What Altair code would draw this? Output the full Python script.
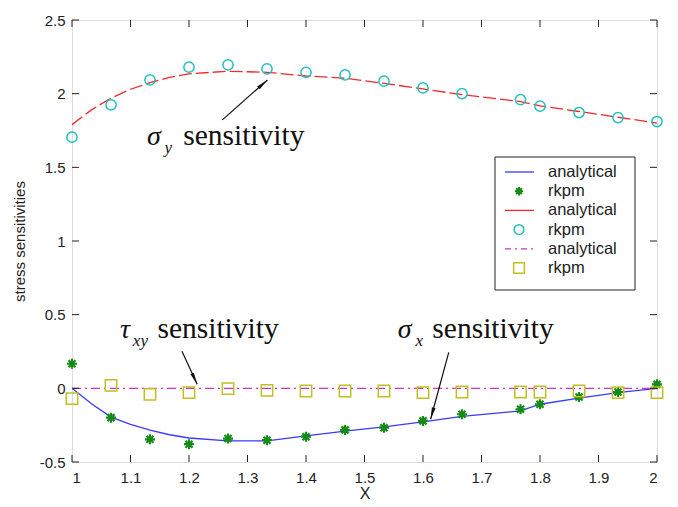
import math
import altair as alt
import pandas as pd

# ---------------- data ----------------
x_nodes = [1.0, 1.0667, 1.1333, 1.2, 1.2667, 1.3333, 1.4, 1.4667, 1.5333, 1.6,
           1.6667, 1.7667, 1.8, 1.8667, 1.9333, 2.0]
sx_rkpm = [0.167, -0.199, -0.346, -0.379, -0.341, -0.352, -0.328, -0.282, -0.267,
           -0.221, -0.176, -0.142, -0.108, -0.059, -0.025, 0.027]
sy_rkpm = [1.705, 1.924, 2.093, 2.18, 2.195, 2.168, 2.145, 2.127, 2.085, 2.039,
           2.0, 1.96, 1.915, 1.872, 1.838, 1.811]
txy_rkpm = [-0.07, 0.02, -0.041, -0.029, -0.002, -0.014, -0.018, -0.018, -0.018,
            -0.029, -0.025, -0.025, -0.025, -0.018, -0.029, -0.029]

x_analytical = [1.0, 1.0333, 1.0667, 1.1, 1.1333, 1.1667, 1.2, 1.2667, 1.3333, 1.4,
                1.4667, 1.5333, 1.6, 1.6667, 1.7667, 1.8, 1.8667, 1.9333, 2.0]
sx_analytical = [0.0, -0.105, -0.195, -0.245, -0.283, -0.315, -0.337, -0.357, -0.357,
                 -0.323, -0.29, -0.262, -0.228, -0.19, -0.153, -0.108, -0.066, -0.029, 0.0]
sy_analytical = [1.79, 1.89, 1.97, 2.03, 2.075, 2.11, 2.135, 2.152, 2.145, 2.12,
                 2.105, 2.07, 2.032, 1.993, 1.946, 1.917, 1.879, 1.84, 1.80]
x_tau_analytical = [1.0, 2.0]
tau_analytical = [0.0, 0.0]

x_ticks = [1.0, 1.1, 1.2, 1.3, 1.4, 1.5, 1.6, 1.7, 1.8, 1.9, 2.0]
y_ticks = [-0.5, 0.0, 0.5, 1.0, 1.5, 2.0, 2.5]

legend_labels = ["analytical", "rkpm", "analytical", "rkpm", "analytical", "rkpm"]

# annotations (data coordinates)
ann_sym = ["σ", "τ", "σ"]
ann_sub = ["y", "xy", "x"]
ann_sym_x = [1.128, 1.082, 1.557]
ann_sub_x = [1.158, 1.104, 1.587]
ann_text_x = [1.190, 1.146, 1.616]
ann_base_y = [1.653, 0.340, 0.343]
ann_sub_y = [1.597, 0.287, 0.287]
arrow_x1 = [1.257, 1.188, 1.644]
arrow_y1 = [1.822, 0.251, 0.244]
arrow_x2 = [1.334, 1.214, 1.613]
arrow_y2 = [2.093, 0.027, -0.21]

# ---------------- styling ----------------
W, H = 585, 442
X_DOM = [1, 2]
Y_DOM = [-0.5, 2.5]
BLUE = "#3a3aff"
GREEN = "#168a16"
RED = "#ee2a2a"
CYAN = "#22c0c0"
MAGENTA = "#cc33cc"
YELLOW = "#c0c020"
AX = "#222222"
SANS = "Liberation Sans"
SERIF = "Liberation Serif"
STAR = "M-1,0L1,0M0,-1L0,1M-0.7,-0.7L0.7,0.7M-0.7,0.7L0.7,-0.7"
HEAD = "M0,0L-0.32,2L0.32,2Z"

xs = alt.Scale(domain=X_DOM, nice=False, zero=False)
ys = alt.Scale(domain=Y_DOM, nice=False, zero=False)

nodes = pd.DataFrame({"x": x_nodes, "sx": sx_rkpm, "sy": sy_rkpm, "txy": txy_rkpm})
ana = pd.DataFrame({"x": x_analytical, "sx": sx_analytical, "sy": sy_analytical})
tau = pd.DataFrame({"x": x_tau_analytical, "t": tau_analytical})

base_x = alt.X("x:Q", scale=xs,
               axis=alt.Axis(values=x_ticks, title="X", labelExpr="'' + datum.value",
                             ticks=False, domain=False, grid=False, labelFont=SANS,
                             labelFontSize=15, labelColor=AX, labelPadding=8,
                             titleFont=SANS, titleFontSize=16, titleFontWeight="normal",
                             titleColor=AX, titlePadding=0))

def yenc(field):
    return alt.Y(field + ":Q", scale=ys,
                 axis=alt.Axis(values=y_ticks, title="stress sensitivities",
                               labelExpr="'' + datum.value", ticks=False, domain=False,
                               grid=False, labelFont=SANS, labelFontSize=15,
                               labelColor=AX, labelPadding=7, titleFont=SANS,
                               titleFontSize=15, titleFontWeight="normal",
                               titleColor=AX, titlePadding=12))

layers = []

# analytical lines
layers.append(alt.Chart(ana).mark_line(color=BLUE, strokeWidth=1.3)
              .encode(x=base_x, y=yenc("sx")))
layers.append(alt.Chart(ana).mark_line(color=RED, strokeWidth=1.3, strokeDash=[13, 4])
              .encode(x=base_x, y=yenc("sy")))
layers.append(alt.Chart(tau).mark_line(color=MAGENTA, strokeWidth=1.3,
                                       strokeDash=[9, 4, 2, 4])
              .encode(x=base_x, y=yenc("t")))

# rkpm markers
layers.append(alt.Chart(nodes).mark_point(shape=STAR, size=100, filled=False,
                                          color=GREEN, strokeWidth=2.2, opacity=1)
              .encode(x=base_x, y=yenc("sx")))
layers.append(alt.Chart(nodes).mark_point(shape="circle", size=105, filled=False,
                                          color=CYAN, strokeWidth=1.5, opacity=1)
              .encode(x=base_x, y=yenc("sy")))
layers.append(alt.Chart(nodes).mark_point(shape="square", size=130, filled=False,
                                          color=YELLOW, strokeWidth=1.5, opacity=1)
              .encode(x=base_x, y=yenc("txy")))

# inward ticks
xt = pd.DataFrame({"x": x_ticks})
yt = pd.DataFrame({"y": y_ticks})
for y0, y1 in [(H, H - 7), (0, 7)]:
    layers.append(alt.Chart(xt).mark_rule(color=AX, strokeWidth=1)
                  .encode(x=alt.X("x:Q", scale=xs), y=alt.value(y0), y2=alt.value(y1)))
for x0, x1 in [(0, 7), (W, W - 7)]:
    layers.append(alt.Chart(yt).mark_rule(color=AX, strokeWidth=1)
                  .encode(y=alt.Y("y:Q", scale=ys), x=alt.value(x0), x2=alt.value(x1)))

# annotations
px_x = W / (X_DOM[1] - X_DOM[0])
px_y = H / (Y_DOM[1] - Y_DOM[0])
angles = []
for a, b, c, d in zip(arrow_x1, arrow_y1, arrow_x2, arrow_y2):
    dx = (c - a) * px_x
    dy = -(d - b) * px_y
    angles.append(math.degrees(math.atan2(dx, -dy)) % 360)
ann = pd.DataFrame({"sym": ann_sym, "sub": ann_sub, "sx": ann_sym_x, "subx": ann_sub_x,
                    "tx": ann_text_x, "by": ann_base_y, "suby": ann_sub_y,
                    "x1": arrow_x1, "y1": arrow_y1, "x2": arrow_x2, "y2": arrow_y2,
                    "ang": angles, "word": ["sensitivity"] * 3})

layers.append(alt.Chart(ann).mark_text(font=SERIF, fontSize=28, fontStyle="italic",
                                       align="left", baseline="alphabetic", color="#111")
              .encode(x=alt.X("sx:Q", scale=xs), y=alt.Y("by:Q", scale=ys), text="sym:N"))
layers.append(alt.Chart(ann).mark_text(font=SERIF, fontSize=17, fontStyle="italic",
                                       align="left", baseline="alphabetic", color="#111")
              .encode(x=alt.X("subx:Q", scale=xs), y=alt.Y("suby:Q", scale=ys), text="sub:N"))
layers.append(alt.Chart(ann).mark_text(font=SERIF, fontSize=29.5, align="left",
                                       baseline="alphabetic", color="#111")
              .encode(x=alt.X("tx:Q", scale=xs), y=alt.Y("by:Q", scale=ys), text="word:N"))
layers.append(alt.Chart(ann).mark_rule(color="#111", strokeWidth=1.2)
              .encode(x=alt.X("x1:Q", scale=xs), y=alt.Y("y1:Q", scale=ys),
                      x2="x2:Q", y2="y2:Q"))
layers.append(alt.Chart(ann).mark_point(shape=HEAD, size=144, filled=True, color="#111",
                                        opacity=1)
              .encode(x=alt.X("x2:Q", scale=xs), y=alt.Y("y2:Q", scale=ys),
                      angle=alt.Angle("ang:Q", scale=None)))

# legend (pixel layout)
one = pd.DataFrame({"k": [0]})
LX0, LX1, LY0, LY1 = 423, 563, 137, 270
layers.append(alt.Chart(one).mark_rect(fill="white", stroke=AX, strokeWidth=1)
              .encode(x=alt.value(LX0), x2=alt.value(LX1), y=alt.value(LY0), y2=alt.value(LY1)))
row_y = [152 + i * 19.2 for i in range(6)]
styles = [("line", BLUE, None), ("point", GREEN, STAR), ("line", RED, None),
          ("point", CYAN, "circle"), ("line", MAGENTA, [6, 4, 2, 4]), ("point", YELLOW, "square")]
for yy, (kind, col, extra), lab in zip(row_y, styles, legend_labels):
    if kind == "line":
        kw = dict(color=col, strokeWidth=1.3)
        if extra:
            kw["strokeDash"] = extra
        layers.append(alt.Chart(one).mark_rule(**kw)
                      .encode(x=alt.value(433), x2=alt.value(462), y=alt.value(yy)))
    else:
        sz = {"circle": 95, "square": 115}.get(extra, 70)
        layers.append(alt.Chart(one).mark_point(shape=extra, size=sz, filled=False, color=col,
                                                strokeWidth=1.5 if extra != STAR else 2,
                                                opacity=1)
                      .encode(x=alt.value(447), y=alt.value(yy)))
    layers.append(alt.Chart(one).mark_text(font=SANS, fontSize=16.5, align="left",
                                           baseline="middle", color=AX)
                  .encode(x=alt.value(476), y=alt.value(yy), text=alt.value(lab)))

chart = (alt.layer(*layers)
         .properties(width=W, height=H, autosize="none",
                     padding={"left": 64, "top": 12, "right": 13, "bottom": 45})
         .configure_view(stroke=AX, strokeWidth=1.2)
         .configure(background="white"))

chart.save("out.html", embed_options={"renderer": "svg", "actions": False})
